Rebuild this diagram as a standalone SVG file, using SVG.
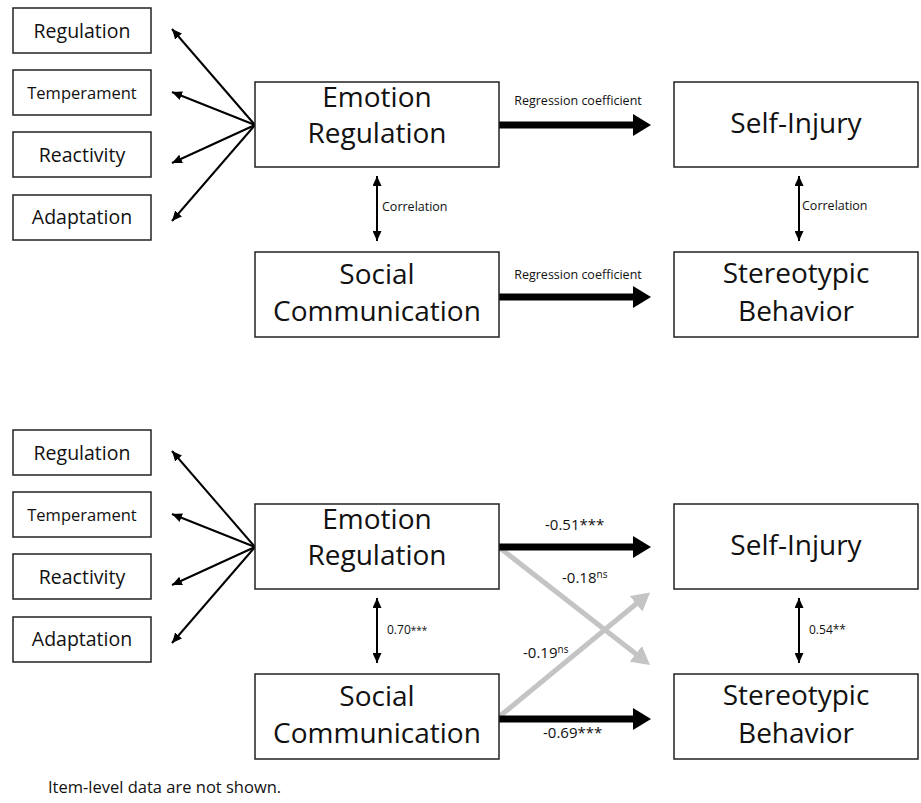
<svg xmlns="http://www.w3.org/2000/svg" width="921" height="803" viewBox="0 0 921 803">
<style>
  .box { fill: #fff; stroke: #222; stroke-width: 1.5; }
  text { font-family: "Open Sans", "Liberation Sans", sans-serif; fill: #111; }
  .big { font-size: 28px; text-anchor: middle; }
  .sm { font-size: 19.5px; text-anchor: middle; }
  .tm { font-size: 16.5px; text-anchor: middle; }
  .lbl { font-size: 12.5px; }
  .num { font-size: 15px; }
  .cor { font-size: 12px; }
  .thin { stroke: #000; stroke-width: 2; fill: none; }
  .thick { stroke: #000; stroke-width: 7; fill: none; }
  .grey { stroke: #c4c4c4; stroke-width: 5; fill: none; }
</style>
<defs>
  <marker id="ah" markerUnits="userSpaceOnUse" viewBox="0 0 10 9" refX="10" refY="4.5" markerWidth="10" markerHeight="9" orient="auto-start-reverse">
    <path d="M0,0 L10,4.5 L0,9 z" fill="#000"/>
  </marker>
  <marker id="bh" markerUnits="userSpaceOnUse" viewBox="0 0 18 22" refX="1" refY="11" markerWidth="18" markerHeight="22" orient="auto">
    <path d="M0,0 L18,11 L0,22 z" fill="#000"/>
  </marker>
  <marker id="gh" markerUnits="userSpaceOnUse" viewBox="0 0 18 20" refX="1" refY="10" markerWidth="18" markerHeight="20" orient="auto">
    <path d="M0,0 L18,10 L0,20 z" fill="#c4c4c4"/>
  </marker>
</defs>

<!-- ===== Top panel ===== -->
<g id="connectors-top">
  <line class="thin" x1="255" y1="125" x2="172" y2="29" marker-end="url(#ah)"/>
  <line class="thin" x1="255" y1="125" x2="172" y2="92" marker-end="url(#ah)"/>
  <line class="thin" x1="255" y1="125" x2="172" y2="163" marker-end="url(#ah)"/>
  <line class="thin" x1="255" y1="125" x2="172" y2="221" marker-end="url(#ah)"/>
  <line class="thick" x1="499" y1="125" x2="634" y2="125" marker-end="url(#bh)"/>
  <line class="thick" x1="499" y1="297" x2="634" y2="297" marker-end="url(#bh)"/>
  <line class="thin" x1="377" y1="176" x2="377" y2="241" marker-start="url(#ah)" marker-end="url(#ah)"/>
  <line class="thin" x1="799" y1="176" x2="799" y2="241" marker-start="url(#ah)" marker-end="url(#ah)"/>
  <text class="lbl" x="578" y="105" text-anchor="middle">Regression coefficient</text>
  <text class="lbl" x="578" y="279" text-anchor="middle">Regression coefficient</text>
  <text class="lbl" x="382" y="211">Correlation</text>
  <text class="lbl" x="802" y="210">Correlation</text>
</g>

<g id="t-regulation"><rect class="box" x="13" y="8" width="138" height="45"/><text class="sm" x="82" y="37.5">Regulation</text></g>
<g id="t-temperament"><rect class="box" x="13" y="70" width="138" height="45"/><text class="tm" x="82" y="98.5">Temperament</text></g>
<g id="t-reactivity"><rect class="box" x="13" y="132" width="138" height="45"/><text class="sm" x="82" y="161.5">Reactivity</text></g>
<g id="t-adaptation"><rect class="box" x="13" y="195" width="138" height="45"/><text class="sm" x="82" y="224">Adaptation</text></g>

<g id="t-emotion"><rect class="box" x="255" y="82" width="244" height="85"/><text class="big" x="377" y="107">Emotion</text><text class="big" x="377" y="143">Regulation</text></g>
<g id="t-social"><rect class="box" x="255" y="252" width="244" height="85"/><text class="big" x="377" y="284">Social</text><text class="big" x="377" y="321">Communication</text></g>
<g id="t-selfinjury"><rect class="box" x="674" y="82" width="244" height="85"/><text class="big" x="796" y="133">Self-Injury</text></g>
<g id="t-stereotypic"><rect class="box" x="674" y="252" width="244" height="85"/><text class="big" x="796" y="283">Stereotypic</text><text class="big" x="796" y="321">Behavior</text></g>

<!-- ===== Bottom panel ===== -->
<g id="connectors-bottom">
  <line class="thin" x1="255" y1="547" x2="172" y2="451" marker-end="url(#ah)"/>
  <line class="thin" x1="255" y1="547" x2="172" y2="514" marker-end="url(#ah)"/>
  <line class="thin" x1="255" y1="547" x2="172" y2="585" marker-end="url(#ah)"/>
  <line class="thin" x1="255" y1="547" x2="172" y2="643" marker-end="url(#ah)"/>
  <line class="grey" x1="500" y1="548" x2="636.6" y2="654.5" marker-end="url(#gh)"/>
  <line class="grey" x1="500" y1="716" x2="636.9" y2="603.2" marker-end="url(#gh)"/>
  <line class="thick" x1="499" y1="547" x2="634" y2="547" marker-end="url(#bh)"/>
  <line class="thick" x1="499" y1="719" x2="634" y2="719" marker-end="url(#bh)"/>
  <line class="thin" x1="377" y1="598" x2="377" y2="663" marker-start="url(#ah)" marker-end="url(#ah)"/>
  <line class="thin" x1="799" y1="598" x2="799" y2="663" marker-start="url(#ah)" marker-end="url(#ah)"/>
  <text class="num" x="545" y="530">-0.51***</text>
  <text class="num" x="562" y="583">-0.18<tspan font-size="10" dy="-5">ns</tspan></text>
  <text class="num" x="523" y="658">-0.19<tspan font-size="10" dy="-5">ns</tspan></text>
  <text class="num" x="543" y="738">-0.69***</text>
  <text class="cor" x="387" y="634">0.70<tspan font-size="10">***</tspan></text>
  <text class="cor" x="809" y="634">0.54**</text>
</g>

<g id="b-regulation"><rect class="box" x="13" y="430" width="138" height="45"/><text class="sm" x="82" y="459.5">Regulation</text></g>
<g id="b-temperament"><rect class="box" x="13" y="492" width="138" height="45"/><text class="tm" x="82" y="520.5">Temperament</text></g>
<g id="b-reactivity"><rect class="box" x="13" y="554" width="138" height="45"/><text class="sm" x="82" y="583.5">Reactivity</text></g>
<g id="b-adaptation"><rect class="box" x="13" y="617" width="138" height="45"/><text class="sm" x="82" y="646">Adaptation</text></g>

<g id="b-emotion"><rect class="box" x="255" y="504" width="244" height="85"/><text class="big" x="377" y="529">Emotion</text><text class="big" x="377" y="565">Regulation</text></g>
<g id="b-social"><rect class="box" x="255" y="674" width="244" height="85"/><text class="big" x="377" y="706">Social</text><text class="big" x="377" y="743">Communication</text></g>
<g id="b-selfinjury"><rect class="box" x="674" y="504" width="244" height="85"/><text class="big" x="796" y="555">Self-Injury</text></g>
<g id="b-stereotypic"><rect class="box" x="674" y="674" width="244" height="85"/><text class="big" x="796" y="705">Stereotypic</text><text class="big" x="796" y="743">Behavior</text></g>

<g id="footnote"><text x="48" y="793" font-size="16.5">Item-level data are not shown.</text></g>
</svg>
